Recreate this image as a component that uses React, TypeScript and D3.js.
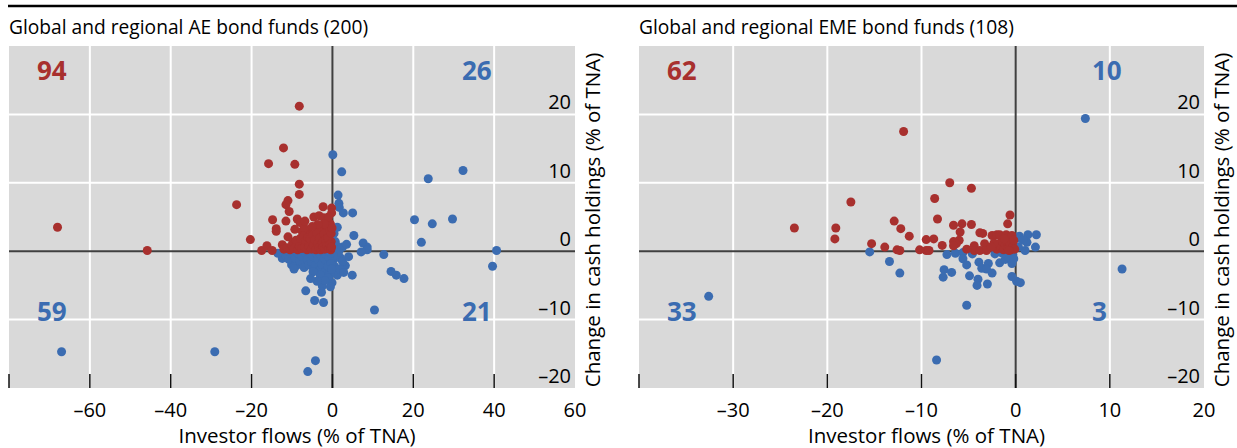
import React from 'react';
import * as d3 from 'd3';

type Pt = [number, number];

// [investor flows, change in cash holdings], % of TNA
// red: outflows with rising cash; blue: everything else
const aeRed: Pt[] = [
  [-8.2, 21.2], [-12.1, 15.1], [-15.8, 12.8], [-9.3, 12.7], [-8.2, 9.8], [-8.2, 8.3],
  [-23.7, 6.8], [-68, 3.5], [-45.8, 0.1], [-11.0, 7.4], [-11.5, 6.8], [-10.7, 5.8],
  [-14.8, 4.6], [-11.5, 4.4], [-8.7, 4.7], [-8.0, 4.2], [-13.9, 3.3], [-13.9, 2.9],
  [-9.3, 3.2], [-7.5, 2.9], [-6.3, 2.9], [-11.0, 2.1], [-20.3, 1.7], [-17.5, 0.1],
  [-16.2, 0.8], [-14.9, 0.1], [-12.4, 0.95], [-9.8, 1.3], [-7.5, 1.2], [-5.0, 1.4],
  [-2.3, 6.5], [-0.2, 6.3], [-0.2, 5.6], [-4.6, 5.0], [-3.3, 5.2], [-2.2, 4.9],
  [-1.3, 4.4], [-0.5, 4.0], [-6.1, 3.1], [-5.8, 2.5], [-7.0, 3.4], [-3.3, 3.1],
  [-1.8, 2.8], [-0.9, 2.2], [-2.8, 2.2], [-0.3, 1.4],
  [-12.0, 0.3], [-11.2, 0.5], [-10.5, 0.2], [-10.0, 0.8], [-9.5, 0.4], [-9.0, 1.6],
  [-8.6, 0.2], [-8.2, 0.7], [-7.9, 1.9], [-7.6, 0.4], [-7.2, 2.2], [-6.9, 0.6],
  [-6.6, 1.5], [-6.3, 0.2], [-6.0, 2.0], [-5.8, 0.7], [-5.5, 1.8], [-5.2, 0.3],
  [-4.9, 2.4], [-4.7, 0.9], [-4.4, 1.6], [-4.1, 0.2], [-3.9, 2.7], [-3.7, 1.1],
  [-3.4, 0.5], [-3.2, 1.9], [-2.9, 0.2], [-2.7, 3.5], [-2.5, 1.3], [-2.3, 0.6],
  [-2.1, 2.5], [-1.9, 0.3], [-1.7, 1.7], [-1.5, 3.8], [-1.3, 0.8], [-1.1, 2.0],
  [-0.9, 0.4], [-0.7, 3.0], [-0.6, 1.0], [-0.4, 0.2], [-0.3, 2.6], [-0.2, 0.6],
  [-0.1, 3.4], [-1.0, 5.0], [-2.0, 4.0], [-3.6, 3.9], [-5.0, 3.6], [-6.8, 4.4],
];

const aeBlue: Pt[] = [
  // inflows, cash up
  [0.1, 14.1], [2.3, 11.6], [1.4, 8.2], [1.6, 7.0], [1.7, 6.4], [2.7, 5.6], [5.0, 5.6],
  [20.3, 4.6], [5.3, 2.3], [7.6, 1.2], [8.6, 0.6], [8.6, 0.2], [22.0, 1.3], [0.7, 1.4],
  [23.7, 10.6], [32.3, 11.8], [24.7, 4.0], [29.7, 4.7], [2.5, 0.6], [0.4, 2.6],
  [1.0, 0.8], [1.8, 0.3], [3.5, 1.0], [0.3, 0.4], [1.2, 3.5], [40.6, 0.1],
  // inflows, cash down
  [7.1, -0.1], [12.7, -0.5], [39.6, -2.2], [14.5, -2.95], [15.8, -3.5], [17.7, -4.0],
  [10.4, -8.6], [0.3, -1.2], [2.0, -1.0], [3.2, -2.1], [0.7, -3.0], [1.2, -3.5],
  [4.9, -3.5], [1.0, -0.5], [0.5, -2.2], [2.5, -1.5], [1.5, -0.2], [4.0, -0.8],
  [0.2, -0.6], [1.8, -2.6], [2.8, -3.1],
  // outflows, cash down
  [-67, -14.7], [-29.1, -14.7], [-6.1, -17.6], [-4.2, -16.0], [-6.6, -5.8], [-12.4, -1.05],
  [-9.6, -1.9], [-8.9, -2.1], [-7.1, -1.7], [-10.1, -2.0], [-6.8, -1.8], [-4.6, -2.6],
  [-3.0, -1.7], [-1.3, -1.5], [-1.5, -4.0], [-0.1, -4.6], [-2.5, -5.1], [-2.7, -6.0],
  [-4.4, -7.2], [-2.2, -7.5],
  [-11.5, -0.6], [-10.8, -1.2], [-10.0, -0.4], [-9.2, -1.0], [-8.5, -0.3], [-8.0, -1.4],
  [-7.6, -0.7], [-7.0, -2.4], [-6.5, -0.5], [-6.2, -1.2], [-5.8, -2.0], [-5.5, -0.3],
  [-5.1, -1.6], [-4.8, -0.8], [-4.2, -2.1], [-3.9, -0.4], [-3.6, -1.2], [-3.3, -2.8],
  [-2.9, -0.6], [-2.6, -1.9], [-2.3, -0.2], [-2.0, -1.1], [-1.8, -3.0], [-1.5, -0.5],
  [-1.1, -2.2], [-0.8, -0.9], [-0.6, -3.4], [-0.4, -0.3], [-0.3, -1.8], [-0.2, -2.6],
  [-1.0, -3.9], [-3.0, -3.5], [-4.8, -3.0], [-0.5, -5.2], [-13.5, -0.3], [-9.5, -2.6],
  [-1.9, -4.3], [-3.8, -4.4], [-5.4, -4.0],
];

const emeRed: Pt[] = [
  [-11.9, 17.5], [-17.5, 7.2], [-23.5, 3.4], [-19.1, 3.4], [-19.2, 1.8], [-12.9, 4.4],
  [-12.2, 3.3], [-11.3, 2.2], [-9.5, 1.7], [-15.3, 1.1], [-13.9, 0.6], [-12.6, 0.2],
  [-12.3, 0.1], [-7.0, 10.0], [-4.7, 9.2], [-8.6, 7.7], [-8.3, 4.7], [-6.6, 3.8],
  [-5.7, 4.0], [-5.9, 2.8], [-4.7, 3.9], [-0.6, 5.3], [-0.85, 4.0], [-8.7, 1.8],
  [-9.5, 0.1], [-9.2, 0.1], [-7.8, 0.85], [-6.6, 1.4], [-6.0, 1.6], [-6.3, 1.1],
  [-6.6, 0.8], [-4.4, 0.8], [-3.3, 1.1], [-4.4, 0.1], [-3.8, 0.1], [-3.1, 0.1],
  [-3.8, 2.7], [-3.5, 2.6], [-2.5, 2.3], [-2.0, 2.4], [-1.7, 2.4], [-1.0, 2.4],
  [-0.4, 2.3], [-10.2, 0.2], [-5.2, 0.3],
  [-2.0, 0.3], [-1.8, 1.0], [-1.6, 0.5], [-1.5, 1.5], [-1.3, 0.2], [-1.1, 0.9],
  [-0.9, 1.4], [-0.8, 0.4], [-0.6, 1.1], [-0.5, 0.2], [-0.3, 0.7], [-0.2, 1.6],
  [-0.1, 0.3], [-2.3, 1.2], [-1.2, 1.8], [-0.7, 0.1], [-2.6, 0.6],
];

const emeBlue: Pt[] = [
  [7.4, 19.4], [0.4, 2.2], [1.3, 2.4], [2.2, 2.4], [0.4, 1.9], [1.2, 1.3], [2.1, 0.6],
  [1.0, 0.1], [0.3, 0.6], [0.8, 1.6],
  [11.3, -2.6], [0.1, -4.4], [0.5, -4.6],
  [-32.6, -6.6], [-8.4, -15.9], [-5.2, -7.9], [-15.5, -0.1], [-13.4, -1.5], [-12.3, -3.2],
  [-7.3, -0.5], [-6.4, -0.3], [-5.6, -0.2], [-5.6, -1.1], [-5.2, -2.0], [-7.6, -2.7],
  [-6.8, -3.1], [-7.7, -3.8], [-4.9, -3.6], [-4.0, -4.1], [-4.1, -5.0], [-3.0, -4.8],
  [-3.9, -1.6], [-3.6, -2.5], [-2.9, -1.8], [-3.1, -2.6], [-2.5, -3.2], [-1.7, -1.7],
  [-1.1, -1.2], [-0.4, -1.8], [-0.4, -3.7], [-0.3, -0.5], [-0.8, -0.8], [-2.2, -0.4],
  [-1.4, -0.3], [-4.6, -0.4], [-0.2, -1.1],
];

// quadrant counts: top-left, top-right, bottom-left, bottom-right
const aeCounts = [94, 26, 59, 21];
const emeCounts = [62, 10, 33, 3];

const aeXTicks = [-80, -60, -40, -20, 0, 20, 40, 60];
const emeXTicks = [-40, -30, -20, -10, 0, 10, 20];
const yTicks = [-20, -10, 0, 10, 20, 30];

const RED = '#A8302E';
const BLUE = '#3B6CB1';
const BG = '#D9D9D9';
const AXIS = '#404040';
const FONT = '"Open Sans", "Noto Sans", sans-serif';

const top = 46;
const bottom = 388;

function Panel({ title, x0, x1, xTicks, red, blue, counts }: {
  title: string; x0: number; x1: number; xTicks: number[];
  red: Pt[]; blue: Pt[]; counts: number[];
}) {
  const x = d3.scaleLinear([xTicks[0], xTicks[xTicks.length - 1]], [x0, x1]);
  const y = d3.scaleLinear([-20, 30], [bottom, top]);
  const inner = xTicks.slice(1, -1);
  const fmt = (v: number) => (v < 0 ? '\u2013' + Math.abs(v) : String(v));

  return (
    <g fontFamily={FONT}>
      <text x={x0} y={33.5} fontSize={19.2} fill="#000">{title}</text>
      <rect x={x0} y={top} width={x1 - x0} height={bottom - top} fill={BG} />
      {inner.filter(v => v !== 0).map(v => (
        <line key={'gx' + v} x1={x(v)} x2={x(v)} y1={top} y2={bottom} stroke="#fff" strokeWidth={2} />
      ))}
      {yTicks.slice(1, -1).filter(v => v !== 0).map(v => (
        <line key={'gy' + v} x1={x0} x2={x1} y1={y(v)} y2={y(v)} stroke="#fff" strokeWidth={2} />
      ))}
      <line x1={x(0)} x2={x(0)} y1={top} y2={bottom} stroke={AXIS} strokeWidth={2} />
      <line x1={x0} x2={x1} y1={y(0)} y2={y(0)} stroke={AXIS} strokeWidth={2} />
      {blue.map((d, i) => (
        <circle key={'b' + i} cx={x(d[0])} cy={y(d[1])} r={4.5} fill={BLUE} />
      ))}
      {red.map((d, i) => (
        <circle key={'r' + i} cx={x(d[0])} cy={y(d[1])} r={4.5} fill={RED} />
      ))}
      {xTicks.slice(0, -1).map(v => (
        <line key={'t' + v} x1={x(v)} x2={x(v)} y1={bottom - 14} y2={bottom} stroke="#111" strokeWidth={1.5} />
      ))}
      {xTicks.slice(1).map(v => (
        <text key={'xl' + v} x={x(v)} y={417} fontSize={20} textAnchor="middle">{fmt(v)}</text>
      ))}
      {yTicks.slice(0, -1).map(v => (
        <text key={'yl' + v} x={x1 - 4} y={y(v) - 5} fontSize={20} textAnchor="end">{fmt(v)}</text>
      ))}
      <text x={(x0 + x1) / 2 + 5} y={443} fontSize={20.5} textAnchor="middle">Investor flows (% of TNA)</text>
      <text transform={`translate(${x1 + 25},${(top + bottom) / 2 + 3}) rotate(-90)`} fontSize={20.5} textAnchor="middle">
        Change in cash holdings (% of TNA)
      </text>
      <g fontSize={26} fontWeight="bold">
        <text x={x0 + 28} y={top + 34} fill={RED}>{counts[0]}</text>
        <text x={x0 + 453} y={top + 34} fill={BLUE}>{counts[1]}</text>
        <text x={x0 + 28} y={top + 275} fill={BLUE}>{counts[2]}</text>
        <text x={x0 + 453} y={top + 275} fill={BLUE}>{counts[3]}</text>
      </g>
    </g>
  );
}

export default function App() {
  return (
    <svg width={1237} height={448} style={{ position: 'absolute', left: 0, top: 0, background: '#fff' }}>
      <line x1={8} x2={1237} y1={6} y2={6} stroke="#000" strokeWidth={2.5} />
      <Panel title="Global and regional AE bond funds (200)" x0={9} x1={575}
        xTicks={aeXTicks} red={aeRed} blue={aeBlue} counts={aeCounts} />
      <Panel title="Global and regional EME bond funds (108)" x0={639} x1={1204}
        xTicks={emeXTicks} red={emeRed} blue={emeBlue} counts={emeCounts} />
    </svg>
  );
}
